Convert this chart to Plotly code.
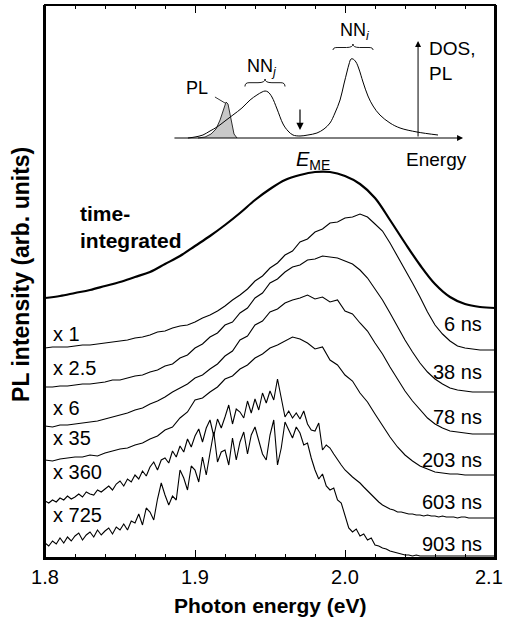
import plotly.graph_objects as go

# ---------------- data ----------------
E10 = [1.80, 1.81, 1.82, 1.83, 1.84, 1.85, 1.86, 1.87, 1.88, 1.89, 1.90, 1.91, 1.92, 1.93, 1.94, 1.95,
       1.96, 1.97, 1.98, 1.99, 2.00, 2.01, 2.02, 2.03, 2.04, 2.05, 2.06, 2.07, 2.08, 2.09, 2.10]

E5 = [1.800, 1.805, 1.810, 1.815, 1.820, 1.825, 1.830, 1.835, 1.840, 1.845, 1.850, 1.855, 1.860, 1.865,
      1.870, 1.875, 1.880, 1.885, 1.890, 1.895, 1.900, 1.905, 1.910, 1.915, 1.920, 1.925, 1.930, 1.935,
      1.940, 1.945, 1.950, 1.955, 1.960, 1.965, 1.970, 1.975, 1.980, 1.985, 1.990, 1.995, 2.000, 2.005,
      2.010, 2.015, 2.020, 2.025, 2.030, 2.035, 2.040, 2.045, 2.050, 2.055, 2.060, 2.065, 2.070, 2.075,
      2.080, 2.085, 2.090, 2.095, 2.100]

E25 = [1.8, 1.8025, 1.805, 1.8075, 1.81, 1.8125, 1.815, 1.8175, 1.82, 1.8225, 1.825, 1.8275, 1.83, 1.8325,
       1.835, 1.8375, 1.84, 1.8425, 1.845, 1.8475, 1.85, 1.8525, 1.855, 1.8575, 1.86, 1.8625, 1.865, 1.8675,
       1.87, 1.8725, 1.875, 1.8775, 1.88, 1.8825, 1.885, 1.8875, 1.89, 1.8925, 1.895, 1.8975, 1.9, 1.9025,
       1.905, 1.9075, 1.91, 1.9125, 1.915, 1.9175, 1.92, 1.9225, 1.925, 1.9275, 1.93, 1.9325, 1.935, 1.9375,
       1.94, 1.9425, 1.945, 1.9475, 1.95, 1.9525, 1.955, 1.9575, 1.96, 1.9625, 1.965, 1.9675, 1.97, 1.9725,
       1.975, 1.9775, 1.98, 1.9825, 1.985, 1.9875, 1.99, 1.9925, 1.995, 1.9975, 2.0, 2.0025, 2.005, 2.0075,
       2.01, 2.0125, 2.015, 2.0175, 2.02, 2.0225, 2.025, 2.0275, 2.03, 2.0325, 2.035, 2.0375, 2.04, 2.0425,
       2.045, 2.0475, 2.05, 2.0525, 2.055, 2.0575, 2.06, 2.0625, 2.065, 2.0675, 2.07, 2.0725, 2.075, 2.0775,
       2.08, 2.0825, 2.085, 2.0875, 2.09, 2.0925, 2.095, 2.0975, 2.1]

x_ticks = [1.8, 1.9, 2.0, 2.1]
x_ticktext = ["1.8", "1.9", "2.0", "2.1"]

# time-integrated spectrum (offset, arb. units)
pl_integrated = [260, 262, 265, 268, 272, 276, 281, 286, 294, 302, 312, 322, 333, 345, 358, 369,
                 378, 383, 386, 386, 382, 374, 360, 338, 315, 293, 274, 261, 254, 251, 250]

pl_6ns = [210, 211, 211, 211, 212, 213, 213, 214, 215, 216, 217, 218, 220, 221, 223, 226, 227, 230, 232, 233,
          236, 240, 243, 247, 252, 258, 263, 269, 277, 282, 290, 295, 303, 307, 316, 319, 326, 329, 335, 336,
          340, 341, 344, 341, 334, 327, 315, 302, 289, 275, 261, 246, 233, 224, 217, 212, 210, 209, 208, 208, 208]

pl_38ns = [171, 171, 172, 172, 173, 174, 174, 175, 176, 178, 178, 180, 182, 183, 186, 188, 192, 194, 200, 203,
           210, 214, 221, 225, 233, 236, 245, 250, 260, 265, 275, 279, 286, 291, 293, 298, 299, 302, 301, 300,
           297, 294, 288, 280, 269, 258, 245, 231, 218, 206, 195, 186, 179, 174, 170, 168, 167, 166, 166, 166, 166]

pl_78ns = [132, 131, 133, 133, 134, 135, 136, 137, 139, 141, 143, 145, 148, 150, 154, 157, 161, 166, 170, 174,
           180, 183, 189, 194, 202, 207, 218, 222, 233, 237, 246, 249, 255, 258, 260, 263, 259, 261, 256, 258,
           247, 244, 235, 227, 215, 204, 191, 179, 167, 157, 148, 140, 134, 130, 127, 126, 125, 124, 124, 124, 124]

pl_203ns = [98, 97, 99, 100, 101, 101, 103, 102, 105, 107, 109, 110, 113, 115, 119, 122, 128, 131, 140, 146,
            158, 160, 166, 171, 179, 182, 189, 193, 200, 204, 210, 213, 217, 221, 219, 215, 209, 211, 198, 193,
            183, 177, 165, 156, 144, 132, 121, 111, 103, 97, 92, 89, 86, 85, 84, 84, 83, 83, 83, 83, 83]

pl_603ns = [57, 55, 58, 56, 60, 58, 62, 59, 61, 64, 61, 66, 64, 63, 68, 66, 69, 72, 68, 74,
            77, 72, 79, 76, 83, 79, 87, 82, 91, 96, 88, 98, 100, 95, 107, 101, 112, 106, 119, 111,
            122, 129, 116, 130, 138, 122, 139, 130, 141, 153, 134, 149, 146, 140, 157, 145, 159, 148, 165, 155,
            167, 158, 179, 161, 141, 147, 140, 145, 139, 147, 134, 128, 127, 135, 108, 113, 110, 104, 98, 93,
            88, 84, 81, 78, 75, 71, 67, 63, 59, 56, 53, 51, 49, 48, 46, 46, 45, 44, 44, 43,
            43, 42, 43, 42, 42, 41, 42, 41, 41, 41, 40, 41, 41, 40, 40, 40, 40, 40, 40, 40, 40]

pl_903ns = [15, 12, 17, 14, 20, 15, 21, 17, 22, 25, 18, 23, 26, 21, 28, 23, 27, 30, 24, 31,
            28, 34, 28, 37, 35, 44, 33, 50, 46, 38, 59, 75, 63, 53, 62, 58, 88, 80, 68, 92,
            88, 76, 101, 83, 105, 126, 96, 106, 108, 93, 120, 98, 116, 126, 104, 123, 131, 118, 104, 98,
            123, 138, 93, 110, 136, 128, 120, 131, 125, 113, 115, 100, 88, 79, 84, 72, 68, 70, 58, 55,
            42, 30, 26, 29, 22, 24, 18, 20, 13, 12, 10, 9, 7, 6, 5, 4, 3, 3, 2, 3,
            2, 2, 2, 2, 2, 2, 2, 2, 2, 2, 2, 2, 2, 2, 2, 2, 2, 2, 2, 2, 2]

scale_labels = ["x 1", "x 2.5", "x 6", "x 35", "x 360", "x 725"]
delay_labels = ["6 ns", "38 ns", "78 ns", "203 ns", "603 ns", "903 ns"]

# inset sketch: density of states and PL band (energy, arb. units)
dos_E = [1.8953, 1.9000, 1.9053, 1.9100, 1.9147, 1.9200, 1.9253, 1.9313, 1.9367, 1.9413, 1.9447, 1.9467,
         1.9487, 1.9513, 1.9547, 1.9587, 1.9620, 1.9653, 1.9700, 1.9753, 1.9813, 1.9860, 1.9900, 1.9933,
         1.9967, 1.9993, 2.0013, 2.0027, 2.0040, 2.0053, 2.0073, 2.0093, 2.0120, 2.0153, 2.0187, 2.0233,
         2.0300, 2.0367, 2.0480, 2.0620]
dos_val = [420, 421, 423, 427, 431, 437, 443, 450, 458, 463, 466, 467,
           466, 461, 449, 434, 427, 423, 422, 423, 425, 429, 435, 445,
           458, 474, 486, 494, 499, 499, 496, 489, 476, 462, 452, 443,
           435, 430, 426, 423]
plband_E = [1.9020, 1.9067, 1.9107, 1.9140, 1.9167, 1.9187, 1.9207, 1.9220, 1.9233, 1.9247, 1.9260, 1.9280]
plband_val = [420, 421, 424, 429, 438, 448, 456, 454, 443, 431, 424, 420]

# ---------------- figure ----------------
FONT = "Liberation Sans, Arial, Helvetica, sans-serif"
fig = go.Figure()

line = dict(color="black", width=1.1)
for E, vals in [(E5, pl_6ns), (E5, pl_38ns), (E5, pl_78ns), (E5, pl_203ns),
                (E25, pl_603ns), (E25, pl_903ns)]:
    fig.add_trace(go.Scatter(x=E, y=vals, mode="lines", line=line, hoverinfo="skip"))

fig.add_trace(go.Scatter(x=E10, y=pl_integrated, mode="lines",
                         line=dict(color="black", width=2.2, shape="spline"), hoverinfo="skip"))

# inset
fig.add_trace(go.Scatter(x=plband_E, y=plband_val, mode="lines", fill="toself",
                         fillcolor="#c8c8c8", line=dict(color="black", width=0.8), hoverinfo="skip"))
fig.add_trace(go.Scatter(x=dos_E, y=dos_val, mode="lines",
                         line=dict(color="black", width=1.0, shape="spline"), hoverinfo="skip"))

# empty trace so the mirrored top axis (ticks only) is drawn
fig.add_trace(go.Scatter(x=[], y=[], xaxis="x2", mode="lines", hoverinfo="skip"))

ann = []
# inset axes arrows
ann.append(dict(x=2.0787, y=420, ax=1.8853, ay=420, axref="x", ayref="y", xref="x", yref="y",
                text="", showarrow=True, arrowhead=2, arrowsize=1.2, arrowwidth=1, arrowcolor="black"))
ann.append(dict(x=2.0487, y=517, ax=2.0487, ay=420, axref="x", ayref="y", xref="x", yref="y",
                text="", showarrow=True, arrowhead=2, arrowsize=1.2, arrowwidth=1, arrowcolor="black"))
ann.append(dict(x=1.9700, y=428, ax=1.9700, ay=450, axref="x", ayref="y", xref="x", yref="y",
                text="", showarrow=True, arrowhead=2, arrowsize=1.2, arrowwidth=1.2, arrowcolor="black"))

def txt(x, y, s, size=18, xanchor="center", yanchor="middle", ref="x", align="center"):
    ann.append(dict(x=x, y=y, xref=ref, yref=ref.replace("x", "y"), text=s, showarrow=False,
                    xanchor=xanchor, yanchor=yanchor, align=align,
                    font=dict(family=FONT, size=size, color="black")))

txt(1.9447, 491, "NN<sub><i>j</i></sub>", 18)
txt(2.0067, 527, "NN<sub><i>i</i></sub>", 18)
txt(1.9013, 470, "PL", 18)
txt(2.0547, 497, "DOS,<br>PL", 19, xanchor="left", align="left")
txt(2.0607, 399, "Energy", 19)
txt(1.9787, 398, "<i>E</i><sub>ME</sub>", 20)

txt(1.8220, 331, "<b>time-<br>integrated</b>", 21, xanchor="left", align="left")

left_y = [224, 190, 150, 120, 86, 43]
right_y = [234, 186, 141, 98, 56, 14]
for s, yv in zip(scale_labels, left_y):
    txt(1.8040, yv, s, 20, xanchor="left")
for s, yv in zip(delay_labels, right_y):
    txt(2.0925, yv, s, 20, xanchor="right")

# last tick label drawn as text so it stays inside the page (as in the original)
ann.append(dict(x=1.0222, y=-0.0344, xref="paper", yref="paper", text=x_ticktext[-1],
                showarrow=False, xanchor="right", yanchor="middle",
                font=dict(family=FONT, size=20, color="black")))

# axis titles
ann.append(dict(x=0.5, y=-0.085, xref="paper", yref="paper", text="<b>Photon energy (eV)</b>",
                showarrow=False, font=dict(family=FONT, size=21, color="black"),
                xanchor="center", yanchor="middle"))
ann.append(dict(x=-0.052, y=0.513, xref="paper", yref="paper", text="<b>PL intensity (arb. units)</b>",
                showarrow=False, textangle=-90, font=dict(family=FONT, size=23, color="black"),
                xanchor="center", yanchor="middle"))

shapes = [
    # plot frame
    dict(type="rect", xref="paper", yref="paper", x0=0, y0=0, x1=1, y1=1,
         line=dict(color="black", width=2), layer="above"),
    # braces
    dict(type="path", xref="x", yref="y", line=dict(color="black", width=0.9),
         path="M 1.9333,471.5 Q 1.9333,475.3 1.9360,475.3 L 1.9420,475.3 Q 1.9467,475.3 1.9467,479 "
              "Q 1.9467,475.3 1.9513,475.3 L 1.9573,475.3 Q 1.9600,475.3 1.9600,471.5"),
    dict(type="path", xref="x", yref="y", line=dict(color="black", width=0.9),
         path="M 1.9920,508 Q 1.9920,510.5 1.9947,510.5 L 2.0010,510.5 Q 2.0053,510.5 2.0053,514 "
              "Q 2.0053,510.5 2.0097,510.5 L 2.0160,510.5 Q 2.0187,510.5 2.0187,508"),
    # PL leader line
    dict(type="line", xref="x", yref="y", x0=1.9133, y0=461, x1=1.9200, y1=455,
         line=dict(color="black", width=0.8)),
]

tickcommon = dict(range=[1.8, 2.1], tickvals=x_ticks,
                  ticks="inside", ticklen=8, tickwidth=1.3, tickcolor="black",
                  minor=dict(dtick=0.02, ticks="inside", ticklen=4, tickwidth=1, tickcolor="black"),
                  showgrid=False, zeroline=False, automargin=False)

fig.update_layout(
    width=507, height=622,
    margin=dict(l=45, r=12, t=5, b=64, autoexpand=False),
    plot_bgcolor="white", paper_bgcolor="white",
    showlegend=False,
    font=dict(family=FONT, color="black"),
    annotations=ann, shapes=shapes,
    xaxis=dict(**tickcommon, ticktext=x_ticktext[:-1] + [""],
               showline=True, linewidth=1.6, linecolor="black",
               tickfont=dict(size=20, family=FONT, color="black")),
    xaxis2=dict(**tickcommon, overlaying="x", side="top", anchor="y", showticklabels=False,
                showline=False),
    yaxis=dict(range=[0, 553], showticklabels=False, ticks="", showline=True, linewidth=1.6,
               linecolor="black", mirror=True, showgrid=False, zeroline=False, automargin=False),
)

fig.write_html("out.html", config={"displayModeBar": False},
               post_script="document.body.style.margin='0';document.body.style.overflow='hidden';")
